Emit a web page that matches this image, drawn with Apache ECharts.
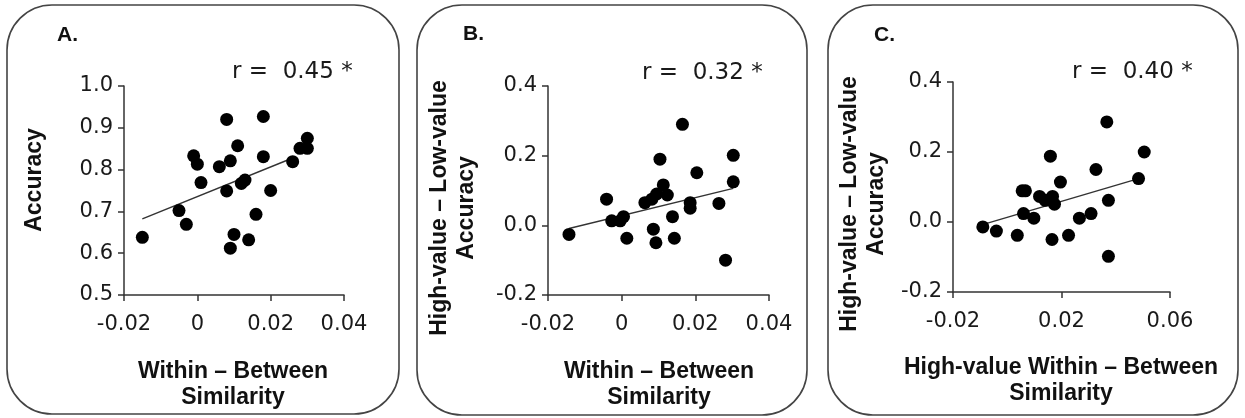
<!DOCTYPE html>
<html>
<head>
<meta charset="utf-8">
<script src="https://cdn.jsdelivr.net/npm/echarts@6/dist/echarts.min.js"></script>
<style>
html, body { margin: 0; padding: 0; background: #fff; }
#chart { width: 1245px; height: 418px; }
</style>
</head>
<body>
<div id="chart"></div>
<script>
// panel A: within - between similarity vs accuracy
var pointsA = [
	[-0.015, 0.638], [-0.005, 0.702], [-0.003, 0.669], [-0.001, 0.833], [0.000, 0.813],
	[0.001, 0.769], [0.006, 0.807], [0.008, 0.920], [0.009, 0.821], [0.008, 0.749],
	[0.011, 0.857], [0.010, 0.645], [0.009, 0.612], [0.012, 0.767], [0.013, 0.775],
	[0.014, 0.632], [0.016, 0.693], [0.018, 0.927], [0.018, 0.831], [0.020, 0.750],
	[0.026, 0.819], [0.028, 0.851], [0.030, 0.875], [0.030, 0.851]
];
var trendA = [[-0.015, 0.682], [0.0255, 0.826]];

// panel B: within - between similarity vs high-value minus low-value accuracy
var pointsB = [
	[-0.0143, -0.026], [-0.0041, 0.075], [-0.0027, 0.013], [-0.0004, 0.013], [0.0005, 0.025],
	[0.0014, -0.037], [0.0063, 0.065], [0.0082, 0.075], [0.0095, 0.090], [0.0086, -0.011],
	[0.0093, -0.050], [0.0104, 0.190], [0.0113, 0.116], [0.0124, 0.087], [0.0138, 0.025],
	[0.0143, -0.037], [0.0165, 0.290], [0.0186, 0.065], [0.0186, 0.049], [0.0204, 0.151],
	[0.0264, 0.063], [0.0282, -0.100], [0.0303, 0.201], [0.0303, 0.125]
];
var trendB = [[-0.0143, -0.009], [0.0303, 0.106]];

// panel C: high-value within - between similarity vs accuracy difference
var pointsC = [
	[-0.0090, -0.014], [-0.0040, -0.026], [0.0037, -0.038], [0.0055, 0.089], [0.0067, 0.089],
	[0.0060, 0.024], [0.0098, 0.011], [0.0119, 0.073], [0.0140, 0.062], [0.0159, 0.188],
	[0.0167, 0.073], [0.0174, 0.051], [0.0165, -0.050], [0.0196, 0.114], [0.0226, -0.038],
	[0.0266, 0.011], [0.0309, 0.024], [0.0327, 0.150], [0.0367, 0.286], [0.0373, 0.062],
	[0.0373, -0.098], [0.0484, 0.124], [0.0505, 0.200]
];
var trendC = [[-0.0085, -0.006], [0.0484, 0.124]];

var xTicksAB = [-0.02, 0, 0.02, 0.04];
var xLabelsAB = ['-0.02', '0', '0.02', '0.04'];
var xTicksC = [-0.02, 0.02, 0.06];
var xLabelsC = ['-0.02', '0.02', '0.06'];
var yTicksA = [0.5, 0.6, 0.7, 0.8, 0.9, 1.0];
var yLabelsA = ['0.5', '0.6', '0.7', '0.8', '0.9', '1.0'];
var yTicksBC = [-0.2, 0, 0.2, 0.4];
var yLabelsBC = ['-0.2', '0.0', '0.2', '0.4'];

var panelLetters = ['A.', 'B.', 'C.'];
var rLabels = ['r =  0.45 *', 'r =  0.32 *', 'r =  0.40 *'];
var xNames = [
	'Within \u2013 Between\nSimilarity',
	'Within \u2013 Between\nSimilarity',
	'High-value Within \u2013 Between\nSimilarity'
];
var yNames = [
	'Accuracy',
	'High-value \u2013 Low-value\nAccuracy',
	'High-value \u2013 Low-value\nAccuracy'
];

var AXIS_COLOR = '#333';
var TEXT_COLOR = '#1a1a1a';
var TICK_FONT = 'DejaVu Sans';

function lookup(ticks, labels) {
	return function (v) {
		for (var i = 0; i < ticks.length; i++) {
			if (Math.abs(ticks[i] - v) < 1e-9) return labels[i];
		}
		return '';
	};
}

function xAxis(idx, min, max, interval, ticks, labels) {
	return {
		type: 'value', gridIndex: idx, min: min, max: max, interval: interval,
		axisLine: { onZero: false, lineStyle: { color: AXIS_COLOR, width: 1.5 } },
		axisTick: { length: 6, lineStyle: { color: AXIS_COLOR, width: 1.5 } },
		splitLine: { show: false },
		axisLabel: {
			margin: 19, color: TEXT_COLOR, fontFamily: TICK_FONT, fontSize: 21,
			formatter: lookup(ticks, labels)
		}
	};
}

function yAxis(idx, min, max, interval, ticks, labels) {
	return {
		type: 'value', gridIndex: idx, min: min, max: max, interval: interval,
		axisLine: { show: true, onZero: false, lineStyle: { color: AXIS_COLOR, width: 1.5 } },
		axisTick: { show: true, length: 6, lineStyle: { color: AXIS_COLOR, width: 1.5 } },
		splitLine: { show: false },
		axisLabel: {
			margin: 11, color: TEXT_COLOR, fontFamily: TICK_FONT, fontSize: 21,
			formatter: lookup(ticks, labels)
		}
	};
}

function scatter(idx, data) {
	return {
		type: 'scatter', xAxisIndex: idx, yAxisIndex: idx, data: data,
		symbolSize: 13, itemStyle: { color: '#000', opacity: 1 }, silent: true
	};
}

function trend(idx, data) {
	return {
		type: 'line', xAxisIndex: idx, yAxisIndex: idx, data: data,
		showSymbol: false, symbol: 'none', silent: true,
		lineStyle: { color: '#333', width: 1.4 }, z: 1
	};
}

var boxes = [[7, 5, 392, 409], [417, 5, 390, 410], [828, 5, 410, 410]];
var letterPos = [[57, 35], [463, 34], [874, 35]];
var rPos = [[232, 72], [642, 73], [1072, 72]];
var xNamePos = [[233, 385], [659, 385], [1061, 381]];
var yNamePos = [[35, 180], [453, 208], [863, 204]];

var graphic = [];
boxes.forEach(function (b) {
	graphic.push({
		type: 'rect', shape: { x: b[0], y: b[1], width: b[2], height: b[3], r: 45 },
		style: { fill: 'none', stroke: '#444', lineWidth: 1.6 }, silent: true
	});
});
for (var i = 0; i < 3; i++) {
	graphic.push({
		type: 'text', x: letterPos[i][0], y: letterPos[i][1],
		style: { text: panelLetters[i], font: 'bold 21px "Liberation Sans"', fill: '#111', verticalAlign: 'middle' }
	});
	graphic.push({
		type: 'text', x: rPos[i][0], y: rPos[i][1],
		style: { text: rLabels[i], font: '23px "DejaVu Sans"', fill: TEXT_COLOR, verticalAlign: 'middle' }
	});
	graphic.push({
		type: 'text', x: xNamePos[i][0], y: xNamePos[i][1],
		style: {
			text: xNames[i], font: 'bold 23px "Liberation Sans"', fill: '#111',
			align: 'center', verticalAlign: 'middle', lineHeight: 26
		}
	});
	graphic.push({
		type: 'text', x: yNamePos[i][0], y: yNamePos[i][1], rotation: Math.PI / 2,
		style: {
			text: yNames[i], font: 'bold 23px "Liberation Sans"', fill: '#111',
			align: 'center', verticalAlign: 'middle', lineHeight: 27
		}
	});
}

var chart = echarts.init(document.getElementById('chart'));
chart.setOption({
	backgroundColor: '#fff',
	animation: false,
	grid: [
		{ left: 124, top: 86, width: 220, height: 209 },
		{ left: 548, top: 86, width: 221, height: 209 },
		{ left: 953, top: 82, width: 217, height: 210 }
	],
	xAxis: [
		xAxis(0, -0.02, 0.04, 0.02, xTicksAB, xLabelsAB),
		xAxis(1, -0.02, 0.04, 0.02, xTicksAB, xLabelsAB),
		xAxis(2, -0.02, 0.06, 0.04, xTicksC, xLabelsC)
	],
	yAxis: [
		yAxis(0, 0.5, 1.0, 0.1, yTicksA, yLabelsA),
		yAxis(1, -0.2, 0.4, 0.2, yTicksBC, yLabelsBC),
		yAxis(2, -0.2, 0.4, 0.2, yTicksBC, yLabelsBC)
	],
	series: [
		trend(0, trendA), scatter(0, pointsA),
		trend(1, trendB), scatter(1, pointsB),
		trend(2, trendC), scatter(2, pointsC)
	],
	graphic: graphic
});
</script>
</body>
</html>
